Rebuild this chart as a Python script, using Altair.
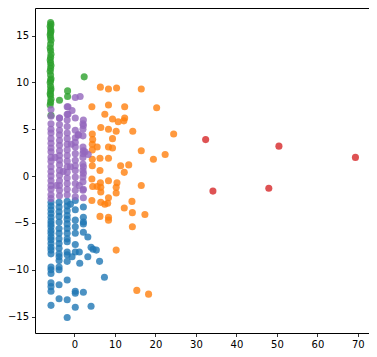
import altair as alt
import pandas as pd

# ---- data ----
blue_x = [-5.8]*23 + [-3.8]*17 + [-1.8]*16 + [0.2]*10 + [1.2, 1.3, 2.2, 2.2, 2.2, 2.2, 2.2, 3.3, 3.3, 4.1, 4.6, 5.4, 6.2, 7.4, 4.1, 2.2, -0.6, -1.0]
blue_y = [-2.8, -3.2, -3.6, -4.0, -4.4, -4.8, -5.1, -5.4, -5.8, -6.1, -6.5, -6.8, -7.2, -7.6, -7.9, -8.3, -9.7, -10.0, -10.4, -11.4, -11.8, -12.3, -13.8,
          -2.8, -3.3, -3.8, -4.3, -4.9, -5.6, -6.1, -6.7, -7.2, -7.7, -8.3, -8.6, -9.0, -9.7, -10.0, -11.6, -13.1,
          -2.7, -3.2, -3.7, -4.2, -4.6, -5.1, -5.6, -6.1, -6.7, -7.0, -8.1, -8.4, -9.1, -11.1, -13.2, -15.1,
          -2.6, -3.6, -4.7, -5.4, -6.1, -7.3, -8.1, -12.3, -12.5, -14.0,
          -8.1, -9.3, -3.3, -4.4, -4.9, -5.1, -6.0, -6.5, -8.6, -7.6, -7.8, -7.9, -9.1, -10.8, -13.9, -12.4, -8.6, -3.0]

orange_x = [6.4, 8.4, 10.4, 16.5, 4.3, 8.4, 12.4, 20.3, 7.5, 9.4, 10.8, 12.4, 12.2, 6.5, 8.4, 10.3, 14.4, 4.4, 4.5, 9.4,
            4.4, 5.6, 8.4, 9.4, 4.4, 16.5, 22.4, 19.5, 4.4, 6.3, 8.4, 4.4, 11.4, 13.4, 6.3, 12.3, 4.3, 6.4, 8.4, 10.5,
            4.5, 5.6, 6.5, 10.3, 16.5, 6.5, 10.3, 8.4, 4.3, 6.5, 7.5, 8.2, 14.2, 12.3, 14.3, 17.4, 6.3, 8.4, 14.3, 10.3,
            15.4, 18.3, 24.5, 8.4]
orange_y = [9.5, 9.3, 9.4, 9.3, 7.4, 7.6, 7.4, 7.3, 6.6, 6.1, 5.8, 6.2, 5.9, 5.2, 5.0, 4.8, 4.8, 4.5, 3.9, 4.0,
            3.4, 3.1, 3.1, 3.0, 2.8, 2.7, 2.3, 1.8, 1.8, 1.9, 1.9, 1.1, 1.1, 1.2, 0.6, 0.4, -0.3, -0.7, -0.5, -0.7,
            -1.1, -1.1, -1.2, -1.2, -1.0, -1.7, -1.8, -2.3, -2.6, -2.8, -3.0, -2.9, -2.7, -3.4, -3.9, -4.1, -4.3, -4.7, -5.4, -7.9,
            -12.2, -12.6, 4.5, -4.4]

green_x = [-5.9, -5.8, -6.0, -5.9, -5.8, -5.9, -6.0, -5.9, -5.8, -5.9, -6.0, -5.9, -5.8, -5.9, -6.0, -5.9,
           -5.8, -5.9, -6.0, -5.9, -5.8, -5.9, -6.0, -5.9, -5.8, -5.9, -6.0, -5.9, -5.8, -5.9, -6.0, -5.8,
           2.4, -1.7, -1.7, -3.7]
green_y = [16.4, 16.2, 16.0, 15.7, 15.5, 15.3, 15.1, 14.8, 14.5, 14.1, 13.7, 13.4, 13.0, 12.7, 12.4, 12.1,
           11.8, 11.5, 11.2, 10.8, 10.4, 10.2, 10.0, 9.6, 9.3, 9.1, 8.8, 8.6, 8.2, 7.9, 7.6, 6.5,
           10.6, 9.1, 8.5, 8.1]

red_x = [32.4, 34.2, 48.0, 50.5, 69.4]
red_y = [3.9, -1.6, -1.3, 3.2, 2.0]

purple_x = [-5.8]*19 + [-3.7]*16 + [-1.8]*16 + [0.2]*14 + [2.1]*11 + \
           [2.2, 2.2, 2.2, 2.2, 2.2, 2.2, 0.9, 3.4, 2.6, 1.4, -1.6, -0.6, -1.6, -3.7, 2.2,
            -0.8, -1.0, 1.0, 1.2, -2.8, -4.8, -4.5]
purple_y = [7.1, 6.4, 5.6, 5.0, 4.6, 4.0, 3.5, 3.0, 2.6, 2.0, 1.6, 1.0, 0.5, 0.0, -0.5, -1.0, -1.4, -2.0, -2.4,
            6.2, 5.5, 4.9, 4.4, 3.8, 3.3, 2.7, 2.2, 1.7, 1.2, 0.6, 0.1, -0.5, -1.0, -1.5, -2.1,
            7.4, 6.6, 6.0, 5.3, 4.6, 4.0, 3.4, 2.8, 2.2, 1.6, 1.0, 0.4, -0.2, -0.8, -1.4, -2.0,
            8.4, 6.2, 4.9, 4.1, 3.6, 3.1, 2.4, 1.7, 1.1, 0.6, -0.1, -0.8, -1.5, -2.2,
            5.6, 5.0, 4.3, 3.1, 2.4, 2.0, 1.3, 0.6, -0.1, -0.6, -1.5,
            5.4, 2.7, 1.0, 0.3, -1.4, -2.3, 4.4, 2.3, 2.6, 8.5, 7.4, 7.0, 6.6, 6.2, 6.0,
            3.4, 1.0, 4.4, -1.0, 0.5, 2.0, -1.0]

groups = ["blue", "orange", "green", "red", "purple"]
colors = ["#1f77b4", "#ff7f0e", "#2ca02c", "#d62728", "#9467bd"]
x_ticks = [0, 10, 20, 30, 40, 50, 60, 70]
y_ticks = [-15, -10, -5, 0, 5, 10, 15]

rows = []
for g, xs, ys in [("blue", blue_x, blue_y), ("orange", orange_x, orange_y),
                  ("green", green_x, green_y), ("red", red_x, red_y),
                  ("purple", purple_x, purple_y)]:
    for a, b in zip(xs, ys):
        rows.append({"x": a, "y": b, "g": g})
df = pd.DataFrame(rows)

axis_common = dict(grid=False, domain=False, tickColor="black", tickSize=3.5, tickWidth=0.8,
                   labelFont="DejaVu Sans", labelFontSize=10, labelColor="black",
                   labelPadding=3, title=None)

chart = alt.Chart(df).mark_circle(size=50, opacity=0.8).encode(
    x=alt.X("x:Q", scale=alt.Scale(domain=[-9.75, 72.75], nice=False, zero=False),
            axis=alt.Axis(values=x_ticks, **axis_common)),
    y=alt.Y("y:Q", scale=alt.Scale(domain=[-16.75, 17.95], nice=False, zero=False),
            axis=alt.Axis(values=y_ticks, **axis_common)),
    color=alt.Color("g:N", scale=alt.Scale(domain=groups, range=colors), legend=None),
).properties(
    width=334, height=325,
    autosize=alt.AutoSizeParams(type="none"),
    padding={"left": 27, "top": 0, "right": 0, "bottom": 18},
).configure_view(stroke="black", strokeWidth=1)

chart.save("out.html", embed_options={"renderer": "svg", "actions": False})
